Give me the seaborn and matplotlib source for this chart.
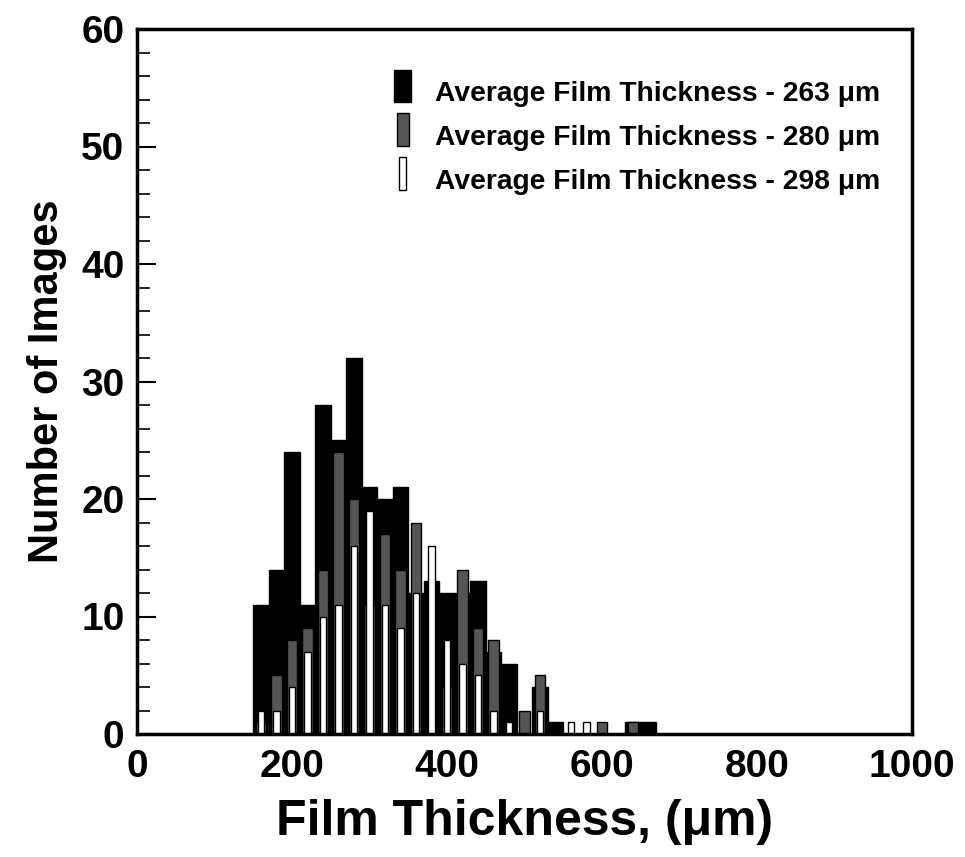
import numpy as np
import pandas as pd
import matplotlib
matplotlib.use("Agg")
import matplotlib.pyplot as plt
import seaborn as sns
from matplotlib.patches import Rectangle, Patch
from matplotlib.legend_handler import HandlerPatch
from matplotlib.ticker import MultipleLocator

# ---------------- data ----------------
bin_edges = [150, 170, 190, 210, 230, 250, 270, 290, 310, 330, 350, 370, 390, 410,
             430, 450, 470, 490, 510, 530, 550, 570, 590, 610, 630, 650, 670]
bin_centers = [160, 180, 200, 220, 240, 260, 280, 300, 320, 340, 360, 380, 400,
               420, 440, 460, 480, 500, 520, 540, 560, 580, 600, 620, 640, 660]
counts_263 = [11, 14, 24, 11, 28, 25, 32, 21, 20, 21, 12, 13, 12,
              12, 13, 7, 6, 0, 4, 1, 0, 0, 0, 0, 1, 1]
counts_280 = [1, 5, 8, 9, 14, 24, 20, 11, 17, 14, 18, 0, 4,
              14, 9, 8, 0, 2, 5, 0, 0, 0, 1, 0, 1, 0]
counts_298 = [2, 2, 4, 7, 10, 11, 16, 19, 11, 9, 12, 16, 8,
              6, 5, 2, 1, 0, 2, 0, 1, 1, 0, 0, 0, 0]
legend_labels = ["Average Film Thickness - 263 \u03bcm",
                 "Average Film Thickness - 280 \u03bcm",
                 "Average Film Thickness - 298 \u03bcm"]
x_ticks = [0, 200, 400, 600, 800, 1000]
y_ticks = [0, 10, 20, 30, 40, 50, 60]
x_label = "Film Thickness, (\u03bcm)"
y_label = "Number of Images"

# ---------------- style ----------------
sns.set_style("white")
plt.rcParams['font.family'] = ['Liberation Sans', 'DejaVu Sans']
plt.rcParams['font.weight'] = 'bold'
plt.rcParams['axes.labelweight'] = 'bold'
plt.rcParams['text.color'] = 'black'
plt.rcParams['axes.labelcolor'] = 'black'
plt.rcParams['xtick.color'] = 'black'
plt.rcParams['ytick.color'] = 'black'

fig = plt.figure(figsize=(9.65, 8.57), dpi=100)
ax = fig.add_axes([137 / 965, 1 - 734 / 857, (912 - 137) / 965, (734 - 29) / 857])

series = [
    (counts_263, "#000000", 1.0),
    (counts_280, "#555555", 0.70),
    (counts_298, "#ffffff", 0.45),
]
for counts, col, shrink in series:
    df = pd.DataFrame({"thickness": bin_centers, "n": counts})
    sns.histplot(data=df, x="thickness", weights="n", bins=bin_edges,
                 shrink=shrink, color=col, edgecolor="black", linewidth=1.0,
                 alpha=1, ax=ax)

ax.set_xlim(0, 1000)
ax.set_ylim(0, 60)
ax.set_xticks(x_ticks)
ax.set_yticks(y_ticks)
ax.yaxis.set_minor_locator(MultipleLocator(2))
ax.tick_params(axis='y', which='major', direction='in', length=14, width=1.5,
               labelsize=28, pad=9, left=True, right=False)
ax.tick_params(axis='y', which='minor', direction='in', length=9, width=1.2,
               left=True, right=False)
ax.tick_params(axis='x', which='both', length=0, labelsize=28, pad=11)
for lab in ax.get_xticklabels() + ax.get_yticklabels():
    lab.set_fontweight('bold')

for sp in ax.spines.values():
    sp.set_linewidth(2.5)
    sp.set_color('black')
    sp.set_zorder(5)

ax.set_xlabel(x_label, fontsize=36, fontweight='bold', labelpad=10)
ax.set_ylabel(y_label, fontsize=30, fontweight='bold', labelpad=10)


class NarrowHandler(HandlerPatch):
    def __init__(self, frac):
        super().__init__()
        self.frac = frac

    def create_artists(self, legend, orig_handle, xdescent, ydescent, width,
                       height, fontsize, trans):
        w = width * self.frac
        x0 = -xdescent + (width - w) / 2
        p = Rectangle((x0, -0.05 * fontsize), w, 1.16 * fontsize,
                      facecolor=orig_handle.get_facecolor(),
                      edgecolor=orig_handle.get_edgecolor(),
                      linewidth=1.0, transform=trans)
        return [p]


handles = [Patch(facecolor="#000000", edgecolor="black"),
           Patch(facecolor="#555555", edgecolor="black"),
           Patch(facecolor="#ffffff", edgecolor="black")]
hmap = {handles[0]: NarrowHandler(0.88),
        handles[1]: NarrowHandler(0.62),
        handles[2]: NarrowHandler(0.40)}
leg = ax.legend(handles, legend_labels, handler_map=hmap, loc='upper left',
                bbox_to_anchor=((393 - 137) / 775, (734 - 81) / 705),
                frameon=False, borderpad=0, borderaxespad=0,
                handlelength=0.68, handleheight=0.7, handletextpad=0.8,
                labelspacing=0.63, prop={'size': 20.3, 'weight': 'bold'})

fig.savefig("out.png", dpi=100)
